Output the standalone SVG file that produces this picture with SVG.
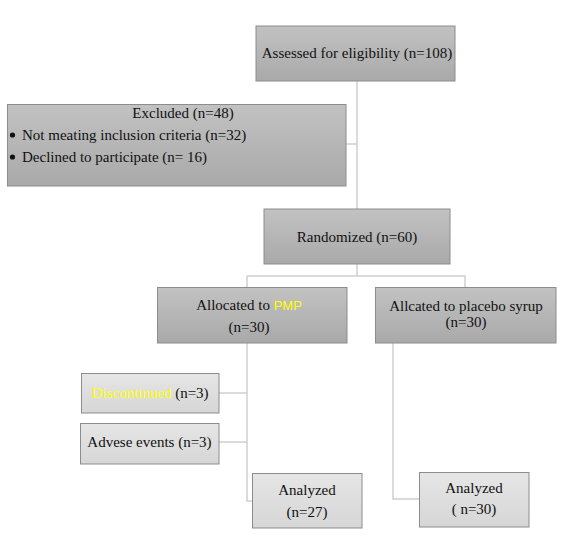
<svg xmlns="http://www.w3.org/2000/svg" width="568" height="550" viewBox="0 0 568 550">
<defs>
<linearGradient id="gDark" x1="0" y1="0" x2="0" y2="1">
<stop offset="0" stop-color="#c2c2c2"/>
<stop offset="1" stop-color="#a9a9a9"/>
</linearGradient>
<linearGradient id="gLight" x1="0" y1="0" x2="0" y2="1">
<stop offset="0" stop-color="#e6e6e6"/>
<stop offset="1" stop-color="#d6d6d6"/>
</linearGradient>
</defs>
<style>
.dk{fill:url(#gDark);stroke:#8c8c8c;stroke-width:1}
.lt{fill:url(#gLight);stroke:#8c8c8c;stroke-width:1}
.t{font-family:'Liberation Serif',serif;font-size:15px;fill:#111}
.c{text-anchor:middle}
.y{fill:#ffff00}
.ys{fill:#ffff00;font-family:'Liberation Sans',sans-serif;font-size:13px}
.ln{fill:none;stroke:#cfcfcf;stroke-width:1.5}
</style>
<rect width="568" height="550" fill="#ffffff"/>
<g id="connectors">
<path class="ln" d="M357 81 V209"/>
<path class="ln" d="M346 144 H357"/>
<path class="ln" d="M357 264 V276"/>
<path class="ln" d="M247 276 H465 V287"/>
<path class="ln" d="M247 276 V287"/>
<path class="ln" d="M247 343 V501 H252"/>
<path class="ln" d="M219 393 H247"/>
<path class="ln" d="M219 442 H247"/>
<path class="ln" d="M393 343 V499 H419"/>
</g>
<g id="assessed">
<rect class="dk" x="256" y="26" width="199" height="55"/>
<text class="t c" x="357" y="58">Assessed for eligibility (n=108)</text>
</g>
<g id="excluded">
<rect class="dk" x="7.5" y="104.5" width="338.5" height="81.5"/>
<text class="t c" x="183" y="118">Excluded (n=48)</text>
<circle cx="12.5" cy="135" r="2.6" fill="#111"/>
<text class="t" x="22" y="140">Not meating inclusion criteria (n=32)</text>
<circle cx="12.5" cy="157" r="2.6" fill="#111"/>
<text class="t" x="22" y="162">Declined to participate (n= 16)</text>
</g>
<g id="randomized">
<rect class="dk" x="264" y="209" width="186" height="55"/>
<text class="t c" x="357" y="242">Randomized (n=60)</text>
</g>
<g id="allocPMP">
<rect class="dk" x="157.5" y="287.5" width="189.5" height="55.5"/>
<text class="t c" x="249" y="310">Allocated to <tspan class="ys">PMP</tspan></text>
<text class="t c" x="249" y="332">(n=30)</text>
</g>
<g id="allocPlacebo">
<rect class="dk" x="375.5" y="287.5" width="180.5" height="55.5"/>
<text class="t c" x="466" y="311">Allcated to placebo syrup</text>
<text class="t c" x="466" y="327">(n=30)</text>
</g>
<g id="discontinued">
<rect class="lt" x="81.5" y="373.5" width="137.5" height="39.5"/>
<text class="t c" x="150" y="398"><tspan class="y">Discontinued</tspan> (n=3)</text>
</g>
<g id="adverse">
<rect class="lt" x="80.5" y="423.5" width="138.5" height="40.5"/>
<text class="t c" x="149.5" y="447">Advese events (n=3)</text>
</g>
<g id="analyzedPMP">
<rect class="lt" x="252.5" y="473.5" width="109.5" height="54.5"/>
<text class="t c" x="307" y="495">Analyzed</text>
<text class="t c" x="307" y="517">(n=27)</text>
</g>
<g id="analyzedPlacebo">
<rect class="lt" x="419.5" y="472.5" width="109.5" height="54.5"/>
<text class="t c" x="474" y="493">Analyzed</text>
<text class="t c" x="474" y="514">( n=30)</text>
</g>
</svg>
